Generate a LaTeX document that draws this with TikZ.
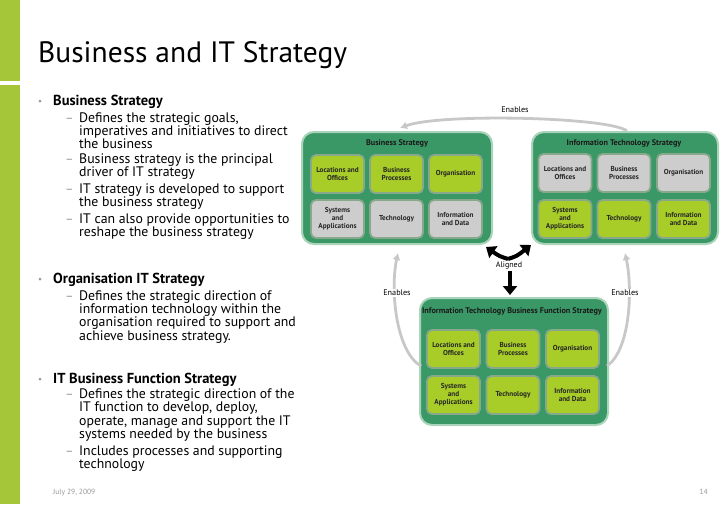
\documentclass[tikz,border=0pt]{standalone}
\usepackage{fontspec}
\setmainfont{PT Sans}
\usetikzlibrary{arrows.meta}
\definecolor{barlime}{RGB}{165,198,57}
\definecolor{outerg}{RGB}{58,152,103}
\definecolor{outerb}{RGB}{170,212,185}
\definecolor{limef}{RGB}{168,204,40}
\definecolor{greyf}{RGB}{205,205,205}
\definecolor{innerb}{RGB}{135,168,138}
\definecolor{enab}{RGB}{200,200,200}
\definecolor{txtgrey}{RGB}{150,150,150}
\begin{document}
\begin{tikzpicture}[x=1pt,y=-1pt,
  outerbox/.style={draw=outerb, line width=2pt, fill=outerg, rounded corners=12pt, inner sep=0pt},
  boxtitle/.style={font=\fontsize{8.2}{9}\selectfont\bfseries, text=black!90, inner sep=0pt},
  cell/.style={draw=innerb, line width=1.8pt, rounded corners=5pt, minimum width=53pt, minimum height=38pt, inner sep=1pt, align=center, font=\fontsize{7.2}{8}\selectfont\bfseries, text=black!85},
  limecell/.style={cell, fill=limef},
  greycell/.style={cell, fill=greyf},
  blkarrow/.style={line width=4pt, -{Triangle[width=14pt,length=9pt]}},
  enarrow/.style={draw=enab, line width=2.8pt, -{Latex[width=8pt,length=7pt]}},
  enlabel/.style={font=\fontsize{8.2}{9}\selectfont, fill=white, inner sep=1pt},
  headline/.style={anchor=base west, font=\fontsize{14.5}{16}\selectfont\bfseries, inner sep=0pt},
  bodyline/.style={anchor=base west, font=\fontsize{13.8}{15}\selectfont, inner sep=0pt},
  dashmark/.style={anchor=base west, font=\fontsize{13}{15}\selectfont, text=txtgrey, inner sep=0pt},
  bulletdot/.style={circle, fill=txtgrey, inner sep=0pt, minimum size=3pt}
]
\useasboundingbox (0,0) rectangle (728,504);
% left bar
\fill[barlime] (0,0) rectangle (20,81);
\fill[barlime] (0,85) rectangle (20,504);
% title
\node[anchor=base west, inner sep=0pt, font=\fontsize{29.5}{31}\selectfont] (title) at (38,62) {Business and IT Strategy};

% text block 1
\node[bulletdot] (d1) at (40,101) {};
\node[headline] (h1) at (53,105) {Business Strategy};
\node[dashmark] (m11) at (65,122) {–};
\node[dashmark] (m12) at (65,163) {–};
\node[dashmark] (m13) at (65,193) {–};
\node[dashmark] (m14) at (65,223) {–};
\node[bodyline] (l1) at (79,122) {Defines the strategic goals,};
\node[bodyline] (l2) at (79,135) {imperatives and initiatives to direct};
\node[bodyline] (l3) at (79,148) {the business};
\node[bodyline] (l4) at (79,163) {Business strategy is the principal};
\node[bodyline] (l5) at (79,176.5) {driver of IT strategy};
\node[bodyline] (l6) at (79,193) {IT strategy is developed to support};
\node[bodyline] (l7) at (79,206.5) {the business strategy};
\node[bodyline] (l8) at (79,223) {IT can also provide opportunities to};
\node[bodyline] (l9) at (79,236.5) {reshape the business strategy};

% text block 2
\node[bulletdot] (d2) at (40,279) {};
\node[headline] (h2) at (53,283) {Organisation IT Strategy};
\node[dashmark] (m21) at (65,300) {–};
\node[bodyline] (l10) at (79,300) {Defines the strategic direction of};
\node[bodyline] (l11) at (79,313) {information technology within the};
\node[bodyline] (l12) at (79,326.5) {organisation required to support and};
\node[bodyline] (l13) at (79,340) {achieve business strategy.};

% text block 3
\node[bulletdot] (d3) at (40,379) {};
\node[headline] (h3) at (53,383) {IT Business Function Strategy};
\node[dashmark] (m31) at (65,398) {–};
\node[dashmark] (m32) at (65,455) {–};
\node[bodyline] (l14) at (79,398) {Defines the strategic direction of the};
\node[bodyline] (l15) at (79,411.5) {IT function to develop, deploy,};
\node[bodyline] (l16) at (79,425) {operate, manage and support the IT};
\node[bodyline] (l17) at (79,438.5) {systems needed by the business};
\node[bodyline] (l18) at (79,455) {Includes processes and supporting};
\node[bodyline] (l19) at (79,468.5) {technology};

% footer
\node[anchor=base west, inner sep=0pt, font=\fontsize{7.5}{9}\selectfont, text=txtgrey] (date) at (53,494) {July 29, 2009};
\node[anchor=base east, inner sep=0pt, font=\fontsize{7.5}{9}\selectfont, text=txtgrey] (pg) at (708,494) {14};

% Business strategy box
\node[outerbox, minimum width=190pt, minimum height=112pt] (bs) at (397,188) {};
\node[boxtitle] (bst) at (397,143) {Business Strategy};
\node[limecell] (b1) at (337.5,174) {Locations and\\Offices};
\node[limecell] (b2) at (396.5,174) {Business\\Processes};
\node[limecell] (b3) at (455.5,174) {Organisation};
\node[greycell] (b4) at (337.5,219) {Systems\\and\\Applications};
\node[greycell] (b5) at (396.5,219) {Technology};
\node[greycell] (b6) at (455.5,219) {Information\\and Data};

% IT strategy box
\node[outerbox, minimum width=186pt, minimum height=112pt] (its) at (625,188) {};
\node[boxtitle] (itst) at (624,143) {Information Technology Strategy};
\node[greycell] (i1) at (565,173) {Locations and\\Offices};
\node[greycell] (i2) at (624,173) {Business\\Processes};
\node[greycell] (i3) at (683.5,173) {Organisation};
\node[limecell] (i4) at (565,219) {Systems\\and\\Applications};
\node[limecell] (i5) at (624,219) {Technology};
\node[limecell] (i6) at (683.5,219) {Information\\and Data};

% IT business function strategy box
\node[outerbox, minimum width=188pt, minimum height=127pt] (bf) at (514,361.5) {};
\node[boxtitle] (bft) at (512,311) {Information Technology Business Function Strategy};
\node[limecell] (f1) at (453.5,349) {Locations and\\Offices};
\node[limecell] (f2) at (513,349) {Business\\Processes};
\node[limecell] (f3) at (572.5,349) {Organisation};
\node[limecell] (f4) at (453.5,395) {Systems\\and\\Applications};
\node[limecell] (f5) at (513,395) {Technology};
\node[limecell] (f6) at (572.5,395) {Information\\and Data};

% Aligned arrows
\coordinate (alc) at (508,259);
\coordinate (altl) at (486,247);
\coordinate (altr) at (531,245);
\draw[blkarrow] (alc) .. controls (499,256) .. (altl);
\draw[blkarrow] (alc) .. controls (517,256) .. (altr);
\node[inner sep=0pt, font=\fontsize{8}{9}\selectfont] (al) at (509,265) {Aligned};
\coordinate (ads) at (510,271);
\coordinate (ade) at (510,295);
\draw[blkarrow] (ads) -- (ade);

% Enables arrows
\coordinate (topS) at (627,131);
\coordinate (topE) at (400,128);
\draw[enarrow] (topS) .. controls (610,117) and (440,113) .. (topE);
\node[enlabel] (en1) at (515,110) {Enables};
\coordinate (lS) at (421,366);
\coordinate (lE) at (398,253);
\draw[enarrow] (lS) .. controls (396,352) and (390,290) .. (lE);
\node[enlabel] (en2) at (397,293) {Enables};
\coordinate (rS) at (607,366);
\coordinate (rE) at (625,253);
\draw[enarrow] (rS) .. controls (630,350) and (633,290) .. (rE);
\node[enlabel] (en3) at (625,293) {Enables};
\end{tikzpicture}
\end{document}
